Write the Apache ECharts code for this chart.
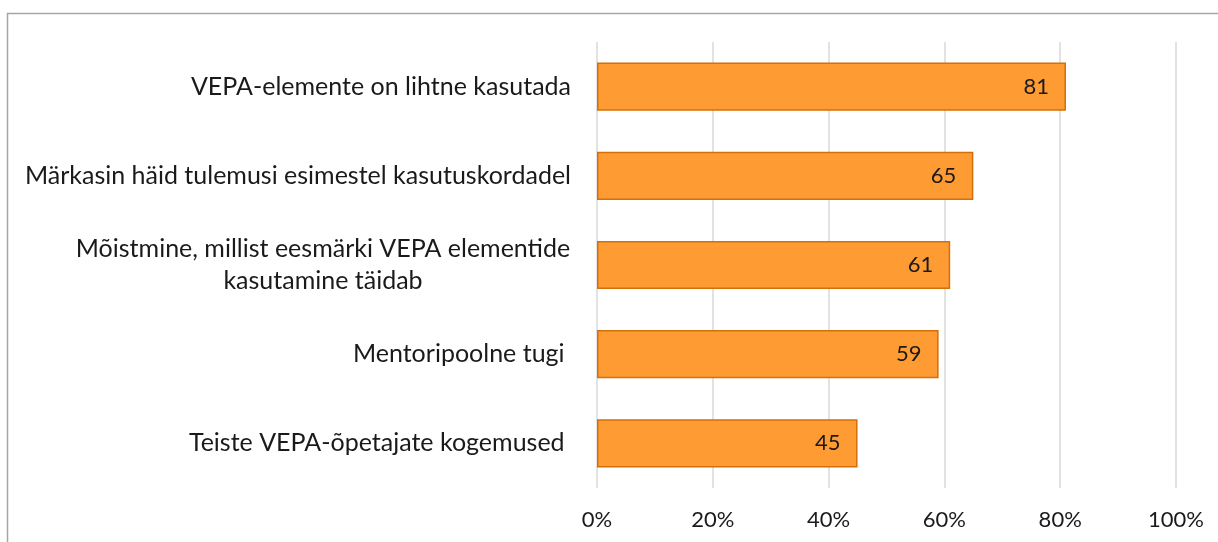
<!DOCTYPE html>
<html>
<head>
<meta charset="utf-8">
<script src="https://cdn.jsdelivr.net/npm/echarts@6/dist/echarts.min.js"></script>
<style>
  html, body { margin: 0; padding: 0; background: #fff; }
  #chart { width: 1218px; height: 542px; }
</style>
</head>
<body>
<div id="chart"></div>
<script>
// categories bottom -> top (category axis on y starts at the bottom)
const categories = [
  "Teiste VEPA-õpetajate kogemused ",
  "Mentoripoolne tugi ",
  "Mõistmine, millist eesmärki VEPA elementide\nkasutamine täidab",
  "Märkasin häid tulemusi esimestel kasutuskordadel",
  "VEPA-elemente on lihtne kasutada"
];
const values = [45, 59, 61, 65, 81];
const xTicks = [0, 20, 40, 60, 80, 100];

const chart = echarts.init(document.getElementById("chart"));

const fontFamily = "Lato, 'Open Sans', sans-serif";

const option = {
  animation: false,
  textStyle: { fontFamily: fontFamily },
  graphic: [
    {
      type: "polyline",
      shape: { points: [[7.5, 542], [7.5, 13.5], [1218, 13.5]] },
      style: { stroke: "#a6a6a6", lineWidth: 1.5, fill: null }
    }
  ],
  grid: {
    left: 597,
    right: 42,
    top: 42,
    bottom: 54
  },
  xAxis: {
    type: "value",
    min: xTicks[0],
    max: xTicks[xTicks.length - 1],
    interval: 20,
    axisLine: { show: false },
    axisTick: { show: false },
    axisLabel: {
      color: "#1a1a1a",
      fontSize: 22,
      fontFamily: fontFamily,
      margin: 21,
      formatter: (v) => v + "%"
    },
    splitLine: { lineStyle: { color: "#d9d9d9", width: 1.5 } }
  },
  yAxis: {
    type: "category",
    data: categories,
    axisLine: { show: false },
    axisTick: { show: false },
    axisLabel: {
      color: "#1a1a1a",
      fontSize: 25,
      fontFamily: fontFamily,
      margin: 26,
      lineHeight: 32,
      formatter: function (v) {
        if (v.indexOf("\n") < 0) return v;
        return v.split("\n").map((line) => "{c|" + line + "}").join("\n");
      },
      rich: {
        c: {
          width: 496,
          align: "center",
          fontSize: 25,
          lineHeight: 32,
          color: "#1a1a1a",
          fontFamily: fontFamily
        }
      }
    }
  },
  series: [
    {
      type: "bar",
      data: values,
      barWidth: "54%",
      itemStyle: {
        color: "#ff9b33",
        borderColor: "#d46f0a",
        borderWidth: 1.5
      },
      label: {
        show: true,
        position: "insideRight",
        distance: 17,
        color: "#1a1a1a",
        fontSize: 22,
        fontFamily: fontFamily
      }
    }
  ]
};

chart.setOption(option);
</script>
</body>
</html>
